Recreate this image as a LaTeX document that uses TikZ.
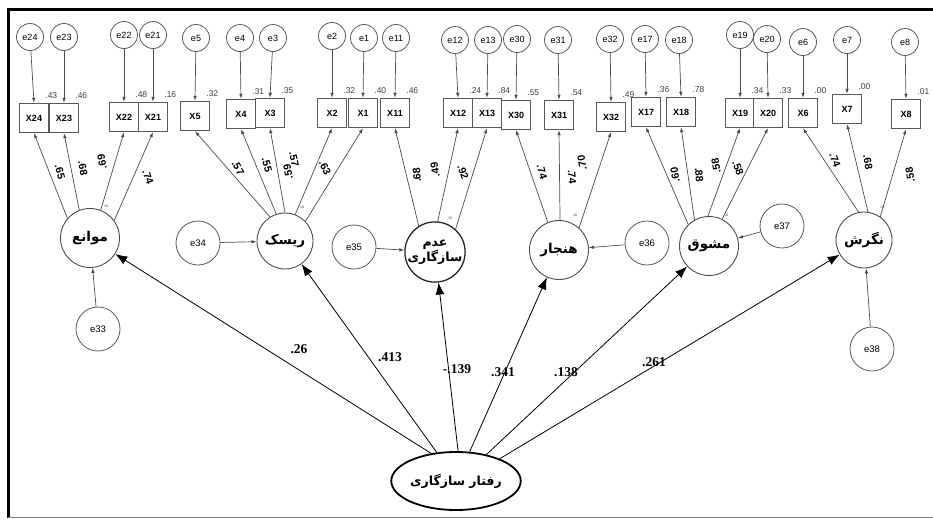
\documentclass[tikz,border=0pt]{standalone}
\usepackage{fontspec}
\setmainfont{Liberation Sans}
\newfontfamily\arabicfont[Script=Arabic]{DejaVu Sans}
\newfontfamily\timesfont{Liberation Serif}
\TeXXeTstate=1
\usetikzlibrary{shapes.geometric,arrows.meta}
\begin{document}
\begin{tikzpicture}[x=1pt,y=-1pt,
 obs/.style={draw=black!65, line width=0.9pt, minimum width=29.5pt, minimum height=29.5pt, inner sep=0pt, font=\bfseries\fontsize{9}{9}\selectfont, fill=white},
 err/.style={circle, draw=black!65, line width=0.8pt, minimum size=27pt, inner sep=0pt, font=\fontsize{9}{9}\selectfont},
 errb/.style={circle, draw=black!65, line width=0.8pt, minimum size=44pt, inner sep=0pt, font=\fontsize{9.5}{9.5}\selectfont},
 lat/.style={circle, draw=black!70, line width=0.9pt, minimum size=59pt, inner sep=0pt, font=\arabicfont\bfseries\fontsize{13.5}{15}\selectfont, align=center},
 rsq/.style={font=\fontsize{8.5}{8.5}\selectfont, text=black!75, inner sep=0pt, anchor=south west},
 ld/.style={font=\bfseries\fontsize{10.5}{10.5}\selectfont, inner sep=0pt},
 tinyl/.style={font=\fontsize{3.5}{3.5}\selectfont, inner sep=0pt, text=black!70},
 ea/.style={draw=black!70, line width=0.7pt, -{Latex[length=5pt,width=3.5pt]}},
 sa/.style={draw=black, line width=0.8pt, -{Latex[length=12pt,width=9pt]}},
 pl/.style={font=\timesfont\bfseries\fontsize{13.5}{13.5}\selectfont, inner sep=0pt}
]
\useasboundingbox (0,0) rectangle (933,520);
% frame
\draw[line width=3pt] (8,518) -- (8,9) -- (933,9);
\draw[black!50, line width=1pt] (8,517) -- (933,517);

% error circles (indicators)
\foreach \n/\x/\y in {e24/30/37, e23/64/37, e22/124/35, e21/153/35, e5/196/38, e4/240/38, e3/273/38, e2/332/36, e1/364/38, e11/396/38, e12/455/40, e13/488/40, e30/517/39, e31/558/40, e32/610/39, e17/645/39, e18/679/40, e19/740/35, e20/767/39, e6/803/42, e7/847/40, e8/905/42}
  \node[err] (\n) at (\x,\y) {\n};

% observed boxes
\foreach \n/\x/\y/\r in {X24/34/118/.43, X23/64/118/.46, X22/124/117/.48, X21/153/117/.16, X5/195/116/.32, X4/241/114/.31, X3/270/113/.35, X2/332/113/.32, X1/363/113/.40, X11/395/113/.46, X12/458/113/.24, X13/487/113/.84, X30/516/115/.55, X31/559/115/.54, X32/611/117/.49, X17/646/112/.36, X18/681/112/.78, X19/740/113/.34, X20/768/113/.33, X6/803/113/.00, X7/847/109/.00, X8/906/114/.01}
{
  \node[obs] (\n) at (\x,\y) {\n};
  \node[rsq] at ([xshift=-4pt,yshift=4pt]\n.north east) {\r};
}

% error -> box arrows
\foreach \e/\b in {e24/X24, e23/X23, e22/X22, e21/X21, e5/X5, e4/X4, e3/X3, e2/X2, e1/X1, e11/X11, e12/X12, e13/X13, e30/X30, e31/X31, e32/X32, e17/X17, e18/X18, e19/X19, e20/X20, e6/X6, e7/X7, e8/X8}
  \draw[ea] (\e) -- (\b.north);

% latent variables
\node[lat] (m) at (90,238) {\beginR موانع\endR};
\node[lat, minimum size=56pt] (r) at (285,241) {\beginR ریسک\endR};
\node[lat, line width=1.3pt, draw=black!85, font=\arabicfont\bfseries\fontsize{12.5}{13}\selectfont] (a) at (435,252) {\beginR عدم\endR\\\beginR سازگاری\endR};
\node[lat] (h) at (559,250) {\beginR هنجار\endR};
\node[lat] (mo) at (709,246) {\beginR مشوق\endR};
\node[lat, minimum size=56pt] (n) at (864,240) {\beginR نگرش\endR};

% latent error circles
\node[errb] (e34) at (198,243) {e34};
\node[errb] (e35) at (354,247) {e35};
\node[errb] (e36) at (647,243) {e36};
\node[errb] (e37) at (782,226) {e37};
\node[errb] (e38) at (872,349) {e38};
\node[errb] (e33) at (98,329) {e33};

\draw[ea] (e34) -- (r);
\draw[ea] (e35) -- (a);
\draw[ea] (e36) -- (h);
\draw[ea] (e37) -- (mo);
\draw[ea] (e38) -- (n);
\draw[ea] (e33) -- (m);

% loadings
\draw[ea] (m.139) -- (X24.south);
\draw[ea] (m.111) -- (X23.south);
\draw[ea] (m.69) -- (X22.south);
\draw[ea] (m.36) -- (X21.south);
\draw[ea] (r.122) -- (X5.south);
\draw[ea] (r.108) -- (X4.south);
\draw[ea] (r.90) -- (X3.south);
\draw[ea] (r.69) -- (X2.south);
\draw[ea] (r.44) -- (X1.south);
\draw[ea] (a.122) -- (X11.south);
\draw[ea] (a.85) -- (X12.south);
\draw[ea] (a.48) -- (X13.south);
\draw[ea] (h.112) -- (X30.south);
\draw[ea] (h.88) -- (X31.south);
\draw[ea] (h.48) -- (X32.south);
\draw[ea] (mo.134) -- (X17.south);
\draw[ea] (mo.119) -- (X18.south);
\draw[ea] (mo.92) -- (X19.south);
\draw[ea] (mo.64) -- (X20.south);
\draw[ea] (n.101) -- (X6.south);
\draw[ea] (n.82) -- (X7.south);
\draw[ea] (n.55) -- (X8.south);

% loading labels
\node[ld, rotate=-75] (l1) at (60,172) {.65};
\node[ld, rotate=-80] (l2) at (83,168) {.68};
\node[ld, rotate=100] (l3) at (102,162) {.69};
\node[ld, rotate=-70] (l4) at (148,177) {.74};
\node[ld, rotate=-60] (l5) at (238,168) {.57};
\node[ld, rotate=-75] (l6) at (267,165) {.55};
\node[ld, rotate=100] (l7) at (288,172) {.59};
\node[ld, rotate=-80] (l8) at (294,159) {.57};
\node[ld, rotate=-65] (l9) at (325,168) {.63};
\node[ld, rotate=95] (l10) at (417,175) {.68};
\node[ld, rotate=100] (l11) at (435,170) {.49};
\node[ld, rotate=-70] (l12) at (463,172) {.92};
\node[ld, rotate=-75] (l13) at (542,172) {.74};
\node[ld, rotate=-85] (l14) at (572,177) {.74};
\node[ld, rotate=100] (l15) at (582,163) {.70};
\node[ld, rotate=100] (l16) at (675,175) {.60};
\node[ld, rotate=-85] (l17) at (699,175) {.88};
\node[ld, rotate=100] (l18) at (716,166) {.58};
\node[ld, rotate=-70] (l19) at (738,168) {.58};
\node[ld, rotate=-70] (l20) at (835,160) {.74};
\node[ld, rotate=-80] (l21) at (868,162) {.68};
\node[ld, rotate=100] (l22) at (910,175) {.58};

% tiny .00 labels
\node[tinyl] (t1) at (106,206) {.00};
\node[tinyl] (t2) at (302,207) {.00};
\node[tinyl] (t3) at (450,218) {.00};
\node[tinyl] (t4) at (575,215) {.00};
\node[tinyl] (t5) at (726,215) {.00};
\node[tinyl] (t6) at (882,207) {.00};

% exogenous latent
\node[ellipse, draw=black, line width=1.8pt, minimum width=104pt, minimum height=58pt, inner sep=0pt, font=\arabicfont\bfseries\fontsize{12.5}{14}\selectfont] (s) at (456,481) {\beginR رفتار سازگاری\endR};

\draw[sa] (s.132) -- (m);
\draw[sa] (s.124) -- (r);
\draw[sa] (s.86) -- (a);
\draw[sa] (s.65) -- (h);
\draw[sa] (s.41) -- (mo);
\draw[sa] (s.27) -- (n);

\node[pl] (p1) at (299,349) {.26};
\node[pl] (p2) at (390,357) {.413};
\node[pl] (p3) at (457,369) {-.139};
\node[pl] (p4) at (503,372) {.341};
\node[pl] (p5) at (566,372) {.138};
\node[pl] (p6) at (654,362) {.261};
\end{tikzpicture}
\end{document}
